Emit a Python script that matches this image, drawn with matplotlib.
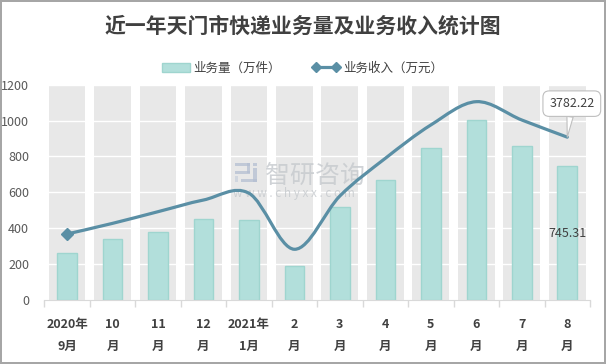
import matplotlib
matplotlib.use("Agg")
import matplotlib.pyplot as plt
from matplotlib.path import Path
from matplotlib.patches import PathPatch, Patch, Rectangle
from matplotlib.lines import Line2D
import numpy as np

plt.rcParams['font.family'] = ['Noto Sans CJK SC', 'DejaVu Sans']

months = ["2020年\n9月", "10\n月", "11\n月", "12\n月", "2021年\n1月", "2\n月",
          "3\n月", "4\n月", "5\n月", "6\n月", "7\n月", "8\n月"]
volume = [260, 338, 377, 450, 444, 191, 517, 667, 849, 1005, 856, 745.31]
revenue = [1533, 1780, 2051, 2322, 2480, 1178, 2416, 3291, 4065, 4606, 4180, 3782.22]

bar_color = "#b2dfdb"
bar_edge = "#9fd5cf"
band_color = "#e8e8e8"
line_color = "#5a8fa5"
text_color = "#404040"

W, H = 606, 364
fig = plt.figure(figsize=(W / 100, H / 100), dpi=100)
fig.patch.set_edgecolor("#a6a6a6")
fig.patch.set_linewidth(1.5)

ax = fig.add_axes([0.0731, 0.1758, 0.9005, 0.5915])
ax2 = ax.twinx()

x = np.arange(len(months))

# gray background bands and white grid
ax.bar(x, [1200] * len(x), width=0.81, color=band_color, zorder=1)
for g in range(200, 1201, 200):
    ax.axhline(g, color="white", lw=1, zorder=1.5)
ax.bar(x, volume, width=0.43, color=bar_color, edgecolor=bar_edge, lw=1, zorder=2)

ax.set_xlim(-0.5, len(x) - 0.5)
ax.set_ylim(0, 1200)
ax.set_yticks(range(0, 1201, 200))
ax.set_xticks(x)
ax.set_xticklabels(months, fontweight="bold", fontsize=9, color=text_color, linespacing=1.9)
ax.set_xticks(np.arange(-0.5, len(x)), minor=True)
ax.tick_params(axis="x", which="major", length=0, pad=13)
ax.tick_params(axis="x", which="minor", length=5, color="#d9d9d9", width=1)
ax.tick_params(axis="y", length=0, pad=11, labelsize=9, labelcolor="#595959")
for s in ["top", "right", "left"]:
    ax.spines[s].set_visible(False)
ax.spines["bottom"].set_color("#d9d9d9")
ax.spines["bottom"].set_zorder(3)

# smoothed revenue line on a hidden secondary axis
ax2.set_ylim(0, 5000)
ax2.set_axis_off()
pts = np.column_stack([x, revenue]).astype(float)
n = len(pts)
verts = [pts[0]]
codes = [Path.MOVETO]
for i in range(n - 1):
    p0 = pts[i - 1] if i > 0 else pts[i]
    p1 = pts[i]
    p2 = pts[i + 1]
    p3 = pts[i + 2] if i + 2 < n else pts[i + 1]
    c1 = p1 + (p2 - p0) / 6
    c2 = p2 - (p3 - p1) / 6
    verts += [c1, c2, p2]
    codes += [Path.CURVE4] * 3
ax2.add_patch(PathPatch(Path(verts, codes), fill=False, ec=line_color, lw=2.3,
                        capstyle="round", zorder=4))
ax2.plot(x[0], revenue[0], marker="D", ms=6, color=line_color, zorder=5)

ax.text(x[-1], volume[-1] / 2, f"{volume[-1]:.2f}", ha="center", va="center",
        fontsize=9, color=text_color, zorder=5)
ax2.annotate(f"{revenue[-1]:.2f}", xy=(x[-1], revenue[-1]), xytext=(x[-1] + 0.1, 4560),
             ha="center", va="center", fontsize=9, color=text_color, zorder=6,
             bbox=dict(boxstyle="round,pad=0.5", fc="white", ec="#bfbfbf", lw=0.8),
             arrowprops=dict(arrowstyle="wedge,tail_width=0.5", fc="white", ec="#bfbfbf",
                             lw=0.8, shrinkA=0, shrinkB=0))

# watermark, under the line (logo drawn as a few blocks, in pixel positions)
def px_rect(x0, y0, w, h, c):
    ax2.add_patch(Rectangle((x0 / W, 1 - (y0 + h) / H), w / W, h / H,
                            transform=fig.transFigure, fc=c, ec="none", alpha=0.75,
                            zorder=3, clip_on=False))

logo_c = "#b4bfd2"
px_rect(235, 163, 15, 3, logo_c)
px_rect(247, 163, 3, 10, logo_c)
px_rect(235, 171, 15, 3, logo_c)
px_rect(235, 176, 3, 6, "#c9d0dc")
px_rect(253, 163, 4, 3, logo_c)
px_rect(253, 168, 4, 14, logo_c)
px_rect(241, 179, 16, 3, logo_c)
ax2.text(0.437, 1 - 176 / 364, "智研咨询", fontsize=18, color="#c5c9cd", ha="left",
         va="center", alpha=0.8, transform=fig.transFigure, zorder=3)
ax2.text(0.385, 1 - 194 / 364, "w w w . c h y x x . c o m", fontsize=8.5, color="#c5c9cd",
         ha="left", va="center", alpha=0.8, transform=fig.transFigure, zorder=3)

fig.text(0.5, 1 - 26 / 364, "近一年天门市快递业务量及业务收入统计图", ha="center", va="center",
         fontsize=15, fontweight="bold", color=text_color)

handles = [Patch(fc=bar_color, ec=bar_edge),
           Line2D([], [], color=line_color, lw=2.3, marker="D", ms=5)]
fig.legend(handles, ["业务量（万件）", "业务收入（万元）"], loc="center",
           bbox_to_anchor=(0.5, 1 - 68 / 364), ncol=2, frameon=False, fontsize=9,
           handlelength=2.2, columnspacing=2.5, handletextpad=0.3, numpoints=2,
           labelcolor=text_color)

fig.savefig("out.png", dpi=100, edgecolor=fig.get_edgecolor())
